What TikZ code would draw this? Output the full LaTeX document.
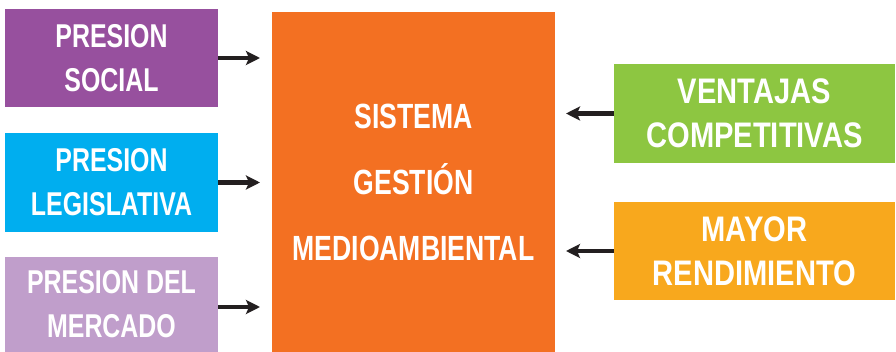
\documentclass[tikz,border=0pt]{standalone}
\usepackage{fontspec}
\newfontfamily\condL[FakeStretch=0.755]{Liberation Sans}
\newfontfamily\condC[FakeStretch=0.76]{Liberation Sans}
\newfontfamily\condR[FakeStretch=0.82]{Liberation Sans}
\usetikzlibrary{arrows.meta}
\definecolor{cpurple}{HTML}{97509E}
\definecolor{cblue}{HTML}{00AEEF}
\definecolor{clav}{HTML}{C09ECB}
\definecolor{corange}{HTML}{F37022}
\definecolor{cgreen}{HTML}{8DC641}
\definecolor{cyellow}{HTML}{F8A81D}
\definecolor{carrow}{HTML}{231F20}
\tikzset{
  box/.style={rectangle, inner sep=0pt, outer sep=0pt, text=white, align=center,
    font=\condL\bfseries\fontsize{33}{44}\selectfont},
  rbox/.style={box, font=\condR\bfseries\fontsize{35.5}{44}\selectfont},
  arr/.style={draw=carrow, line width=4.8pt, -{Stealth[length=14pt,width=14pt,inset=3pt]}}
}
\begin{document}
\begin{tikzpicture}[x=1pt,y=-1pt]
\useasboundingbox (0,0) rectangle (896,352);
% left boxes
\node[box, fill=cpurple, minimum width=213pt, minimum height=98pt] (ps) at (111.5,58) {PRESION\\SOCIAL};
\node[box, fill=cblue, minimum width=213pt, minimum height=99pt] (pl) at (111.5,182.5) {PRESION\\LEGISLATIVA};
\node[box, fill=clav, minimum width=213pt, minimum height=95pt] (pm) at (111.5,304.5) {PRESION DEL\\MERCADO};
% center
\node[box, fill=corange, minimum width=283pt, minimum height=340pt,
  font=\condC\bfseries\fontsize{35}{66}\selectfont] (sg) at (413.5,182) {SISTEMA\\GESTIÓN\\MEDIOAMBIENTAL};
% right boxes
\node[rbox, fill=cgreen, minimum width=281pt, minimum height=99pt] (vc) at (754.5,113.5) {VENTAJAS\\COMPETITIVAS};
\node[rbox, fill=cyellow, minimum width=281pt, minimum height=98pt] (mr) at (754.5,251) {MAYOR\\RENDIMIENTO};
% arrows
\draw[arr, shorten >=12pt] (ps.east) -- (ps.east -| sg.west);
\draw[arr, shorten >=12pt] (pl.east) -- (pl.east -| sg.west);
\draw[arr, shorten >=12pt] ([yshift=-2.5pt]pm.east) -- ([yshift=-2.5pt]pm.east -| sg.west);
\draw[arr, shorten >=11pt] (vc.west) -- (vc.west -| sg.east);
\draw[arr, shorten >=11pt] (mr.west) -- (mr.west -| sg.east);
\end{tikzpicture}
\end{document}
